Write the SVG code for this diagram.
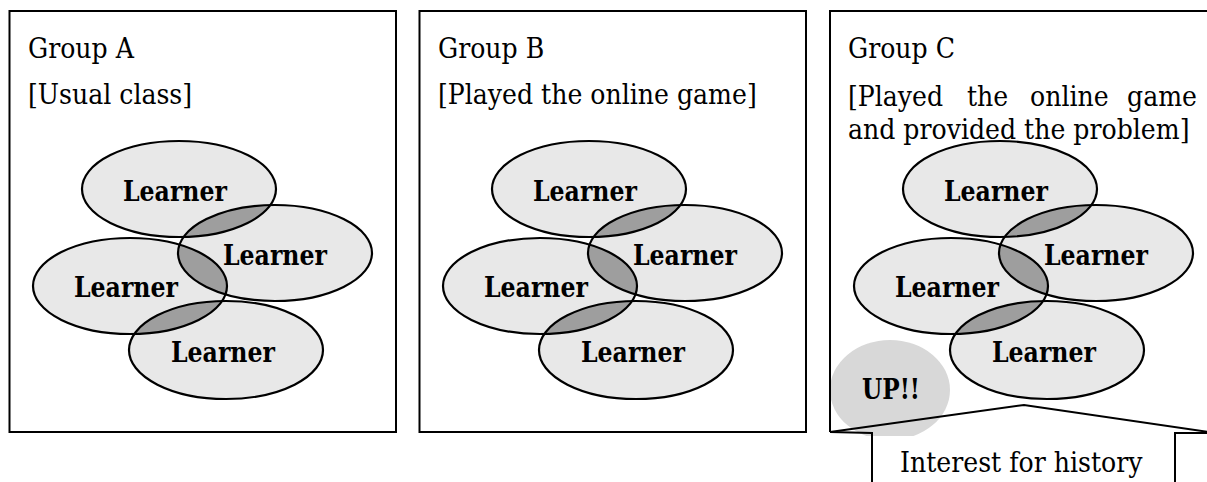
<svg xmlns="http://www.w3.org/2000/svg" width="1207" height="482" viewBox="0 0 1207 482">
<defs>
<style>
.frame{fill:none;stroke:#000;stroke-width:2}
.out{fill:none;stroke:#000;stroke-width:2.2}
.lt{fill:#e8e8e8}
.lens{fill:#9e9e9e}
.t{font-family:"DejaVu Serif Condensed","DejaVu Serif","Liberation Serif",serif;font-stretch:condensed;font-size:28px;fill:#000}
.lb{font-family:"DejaVu Serif Condensed","DejaVu Serif","Liberation Serif",serif;font-stretch:condensed;font-size:27px;font-weight:bold;fill:#000;text-anchor:middle}
</style>
<clipPath id="cT"><ellipse cx="179" cy="189" rx="97" ry="48"/></clipPath>
<clipPath id="cL"><ellipse cx="130" cy="286" rx="97" ry="48"/></clipPath>
<clipPath id="cPanelC"><rect x="831" y="12" width="400" height="424"/></clipPath>
<g id="fills">
<ellipse class="lt" cx="179" cy="189" rx="97" ry="48"/>
<ellipse class="lt" cx="275" cy="253" rx="97" ry="48"/>
<ellipse class="lt" cx="130" cy="286" rx="97" ry="48"/>
<ellipse class="lt" cx="226" cy="350" rx="97" ry="49"/>
<ellipse class="lens" cx="275" cy="253" rx="97" ry="48" clip-path="url(#cT)"/>
<ellipse class="lens" cx="275" cy="253" rx="97" ry="48" clip-path="url(#cL)"/>
<ellipse class="lens" cx="226" cy="350" rx="97" ry="49" clip-path="url(#cL)"/>
</g>
</defs>

<g id="panelA">
<rect class="frame" x="9.5" y="11" width="386.5" height="421"/>
<text class="t" x="28" y="58">Group A</text>
<text class="t" x="28" y="104">[Usual class]</text>
<use href="#fills"/>
<g id="A-learner1"><ellipse class="out" cx="179" cy="189" rx="97" ry="48"/><text class="lb" x="175" y="201" textLength="104" lengthAdjust="spacingAndGlyphs">Learner</text></g>
<g id="A-learner2"><ellipse class="out" cx="275" cy="253" rx="97" ry="48"/><text class="lb" x="275" y="265" textLength="104" lengthAdjust="spacingAndGlyphs">Learner</text></g>
<g id="A-learner3"><ellipse class="out" cx="130" cy="286" rx="97" ry="48"/><text class="lb" x="126" y="297" textLength="104" lengthAdjust="spacingAndGlyphs">Learner</text></g>
<g id="A-learner4"><ellipse class="out" cx="226" cy="350" rx="97" ry="49"/><text class="lb" x="223" y="362" textLength="104" lengthAdjust="spacingAndGlyphs">Learner</text></g>
</g>

<g id="panelB" transform="translate(410,0)">
<rect class="frame" x="9.5" y="11" width="386.5" height="421"/>
<text class="t" x="28" y="58">Group B</text>
<text class="t" x="28" y="104">[Played the online game]</text>
<use href="#fills"/>
<g id="B-learner1"><ellipse class="out" cx="179" cy="189" rx="97" ry="48"/><text class="lb" x="175" y="201" textLength="104" lengthAdjust="spacingAndGlyphs">Learner</text></g>
<g id="B-learner2"><ellipse class="out" cx="275" cy="253" rx="97" ry="48"/><text class="lb" x="275" y="265" textLength="104" lengthAdjust="spacingAndGlyphs">Learner</text></g>
<g id="B-learner3"><ellipse class="out" cx="130" cy="286" rx="97" ry="48"/><text class="lb" x="126" y="297" textLength="104" lengthAdjust="spacingAndGlyphs">Learner</text></g>
<g id="B-learner4"><ellipse class="out" cx="226" cy="350" rx="97" ry="49"/><text class="lb" x="223" y="362" textLength="104" lengthAdjust="spacingAndGlyphs">Learner</text></g>
</g>

<g id="panelC">
<ellipse cx="890" cy="390" rx="60" ry="50" fill="#d8d8d8" clip-path="url(#cPanelC)"/>
<path class="frame" d="M1209,11 H830 V432"/>
<text class="t" x="848" y="58">Group C</text>
<text class="t" x="848" y="106">[Played</text>
<text class="t" x="967" y="106">the</text>
<text class="t" x="1030" y="106">online</text>
<text class="t" x="1197" y="106" text-anchor="end">game</text>
<text class="t" x="848" y="139">and provided the problem]</text>
<g transform="translate(821,0)">
<use href="#fills"/>
<g id="C-learner1"><ellipse class="out" cx="179" cy="189" rx="97" ry="48"/><text class="lb" x="175" y="201" textLength="104" lengthAdjust="spacingAndGlyphs">Learner</text></g>
<g id="C-learner2"><ellipse class="out" cx="275" cy="253" rx="97" ry="48"/><text class="lb" x="275" y="265" textLength="104" lengthAdjust="spacingAndGlyphs">Learner</text></g>
<g id="C-learner3"><ellipse class="out" cx="130" cy="286" rx="97" ry="48"/><text class="lb" x="126" y="297" textLength="104" lengthAdjust="spacingAndGlyphs">Learner</text></g>
<g id="C-learner4"><ellipse class="out" cx="226" cy="350" rx="97" ry="49"/><text class="lb" x="223" y="362" textLength="104" lengthAdjust="spacingAndGlyphs">Learner</text></g>
</g>
<text class="lb" x="891" y="399" textLength="58" lengthAdjust="spacingAndGlyphs">UP!!</text>
</g>

<g id="connectors">
<g id="callout">
<path class="frame" d="M830,432 L1024,405 L1209,432"/>
<path class="frame" d="M830,432 L872,433 V484"/>
<path class="frame" d="M1209,433 H1175 V484"/>
<text class="t" x="900" y="472">Interest for history</text>
</g>
</g>
</svg>
